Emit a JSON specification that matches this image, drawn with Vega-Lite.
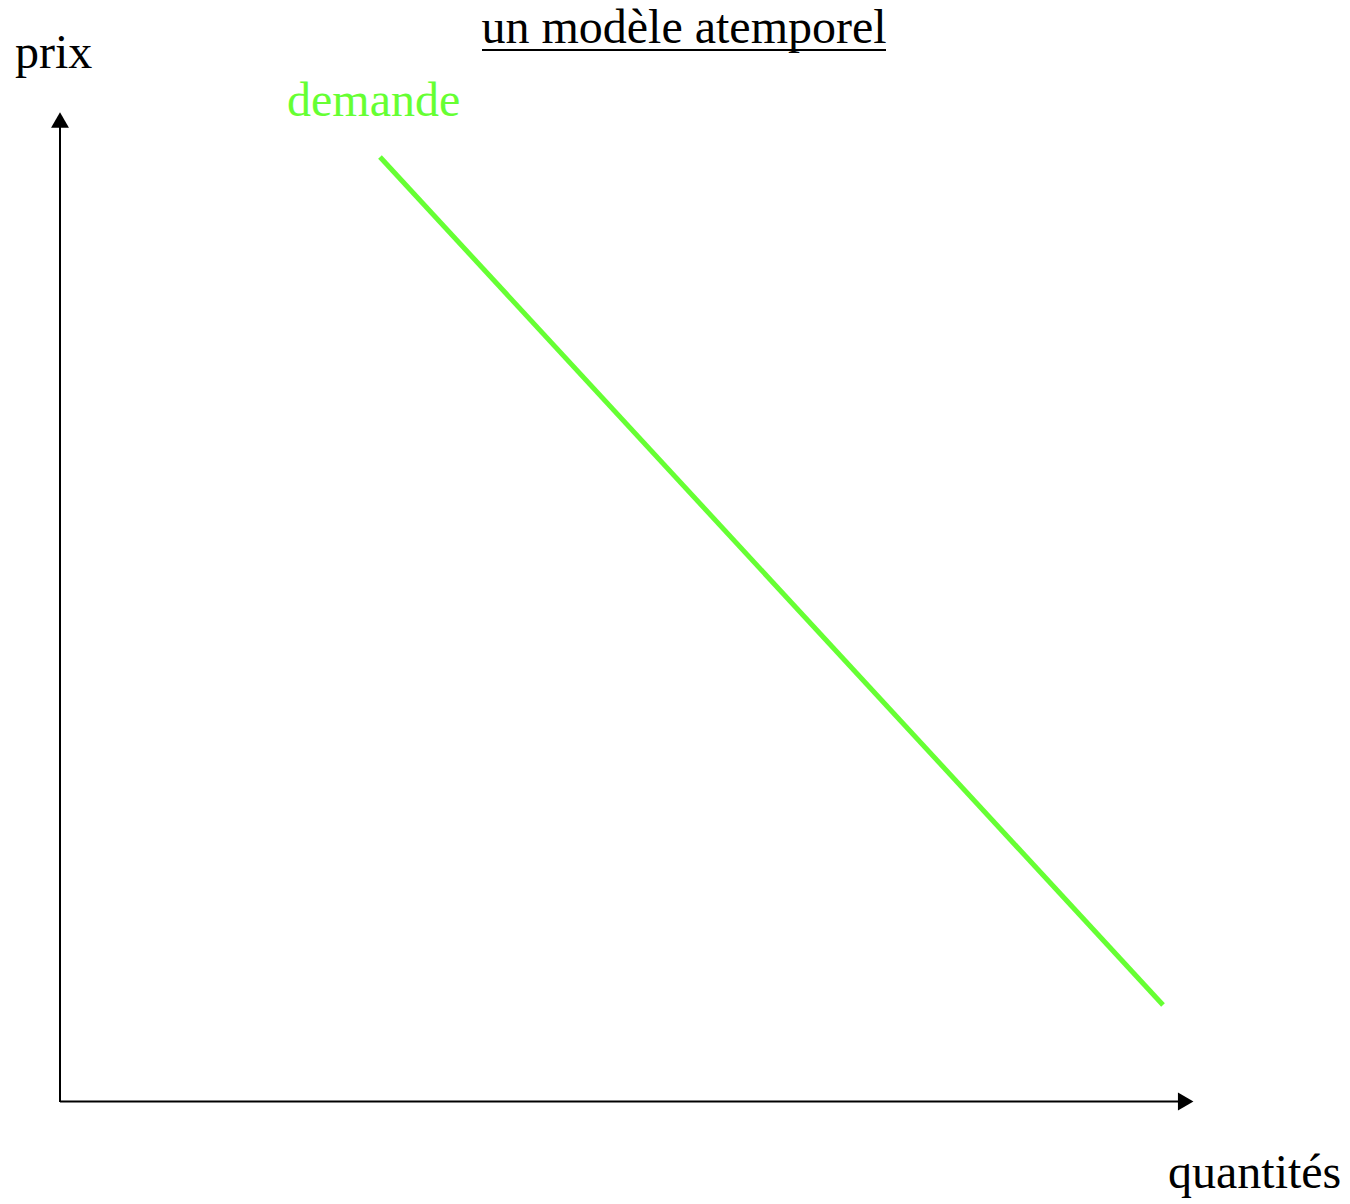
{
  "$schema": "https://vega.github.io/schema/vega-lite/v6.json",
  "width": 1350,
  "height": 1204,
  "autosize": {"type": "fit", "contains": "padding"},
  "padding": 0,
  "background": "white",
  "config": {"view": {"stroke": null}},
  "datasets": {
    "demande": [
      {"quantite": 32.0, "prix": 94.5},
      {"quantite": 110.3, "prix": 9.7}
    ],
    "axes": [
      {"axe": "prix", "x": 0, "y": 0, "x2": 0, "y2": 97.5},
      {"axe": "quantites", "x": 0, "y": 0.05, "x2": 112.0, "y2": 0.05}
    ],
    "fleches": [
      {"axe": "prix", "x": 0, "y": 98.2, "forme": "triangle-up"},
      {"axe": "quantites", "x": 112.57, "y": 0.05, "forme": "triangle-right"}
    ],
    "textes": [
      {"texte": "prix", "x": -4.5, "y": 103.4, "role": "axe"},
      {"texte": "quantités", "x": 110.8, "y": -8.6, "role": "axe"},
      {"texte": "demande", "x": 22.7, "y": 98.6, "role": "courbe"}
    ],
    "titre": [
      {"texte": "un modèle atemporel", "x": 62.4, "y": 105.9, "x1": 42.2, "x2": 82.6, "yl": 105.2}
    ]
  },
  "layer": [
    {
      "data": {"name": "axes"},
      "mark": {"type": "rule", "color": "black", "strokeWidth": 2},
      "encoding": {
        "x": {"field": "x", "type": "quantitative", "scale": {"domain": [-6, 129], "nice": false, "zero": false}, "axis": null},
        "y": {"field": "y", "type": "quantitative", "scale": {"domain": [-10.2, 110.2], "nice": false, "zero": false}, "axis": null},
        "x2": {"field": "x2"},
        "y2": {"field": "y2"}
      }
    },
    {
      "data": {"name": "fleches"},
      "mark": {"type": "point", "filled": true, "color": "black", "size": 320, "opacity": 1, "strokeWidth": 0},
      "encoding": {
        "x": {"field": "x", "type": "quantitative"},
        "y": {"field": "y", "type": "quantitative"},
        "shape": {"field": "forme", "type": "nominal", "scale": null, "legend": null}
      }
    },
    {
      "data": {"name": "demande"},
      "mark": {"type": "line", "color": "#66ff33", "strokeWidth": 5, "strokeCap": "butt"},
      "encoding": {
        "x": {"field": "quantite", "type": "quantitative"},
        "y": {"field": "prix", "type": "quantitative"}
      }
    },
    {
      "data": {"name": "textes"},
      "mark": {"type": "text", "font": "Liberation Serif", "fontSize": 48, "align": "left", "baseline": "alphabetic"},
      "encoding": {
        "x": {"field": "x", "type": "quantitative"},
        "y": {"field": "y", "type": "quantitative"},
        "text": {"field": "texte"},
        "color": {"field": "role", "type": "nominal", "scale": {"domain": ["axe", "courbe"], "range": ["black", "#66ff33"]}, "legend": null}
      }
    },
    {
      "data": {"name": "titre"},
      "mark": {"type": "text", "font": "Liberation Serif", "fontSize": 48, "align": "center", "baseline": "alphabetic", "color": "black"},
      "encoding": {
        "x": {"field": "x", "type": "quantitative"},
        "y": {"field": "y", "type": "quantitative"},
        "text": {"field": "texte"}
      }
    },
    {
      "data": {"name": "titre"},
      "mark": {"type": "rule", "color": "black", "strokeWidth": 2},
      "encoding": {
        "x": {"field": "x1", "type": "quantitative"},
        "x2": {"field": "x2"},
        "y": {"field": "yl", "type": "quantitative"}
      }
    }
  ]
}
